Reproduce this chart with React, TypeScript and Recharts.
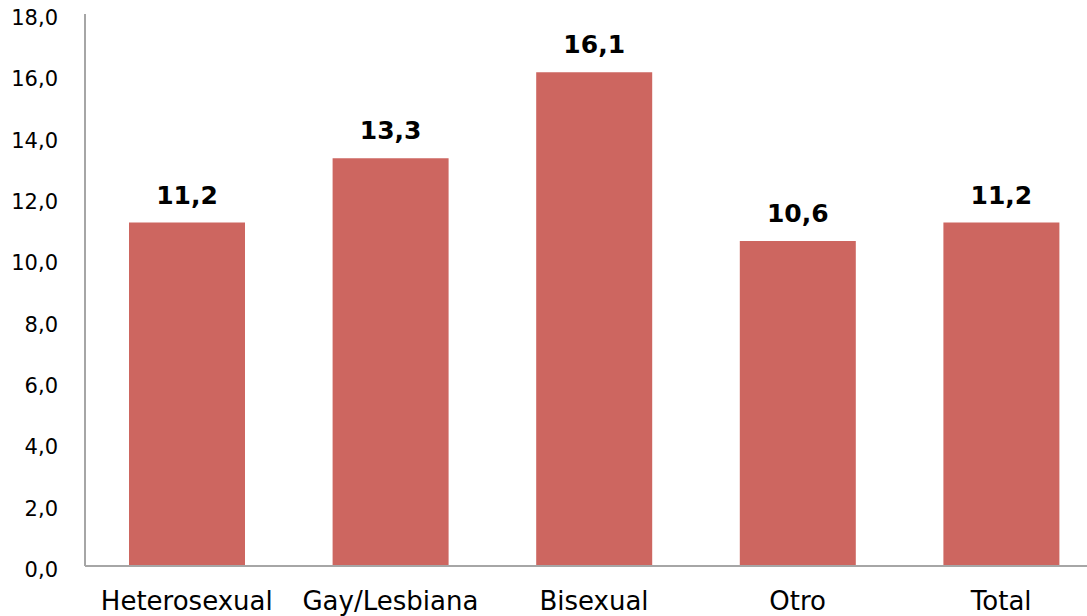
import { BarChart, Bar, XAxis, YAxis, LabelList } from "recharts";

const categories = ["Heterosexual", "Gay/Lesbiana", "Bisexual", "Otro", "Total"];
const values = [11.2, 13.3, 16.1, 10.6, 11.2];
const yTicks = [0, 2, 4, 6, 8, 10, 12, 14, 16, 18];

const data = categories.map((name, i) => ({ name, value: values[i] }));

const fmt = (v: number) => v.toFixed(1).replace(".", ",");

const font = "'DejaVu Sans', Verdana, sans-serif";

// y tick labels sit a touch below their gridline position in the original
const YTick = ({ x, y, payload }: any) => (
  <text x={x} y={y} dy={11} textAnchor="end" fill="#000" fontSize={21} fontFamily={font}>
    {fmt(payload.value)}
  </text>
);

export default function App() {
  return (
    <div style={{ position: "fixed", left: 0, top: 0, width: 1087, height: 616, overflow: "hidden", background: "#fff" }}>
      <BarChart
        width={1110}
        height={616}
        data={data}
        margin={{ top: 14, right: 7, left: 0, bottom: 0 }}
      >
        <XAxis
          dataKey="name"
          height={50}
          tickLine={false}
          tickSize={0}
          tickMargin={26}
          axisLine={{ stroke: "#a6a6a6", strokeWidth: 2 }}
          tick={{ fill: "#000", fontSize: 26, fontFamily: font }}
          interval={0}
        />
        <YAxis
          width={85}
          domain={[0, 18]}
          ticks={yTicks}
          tickLine={false}
          tickSize={0}
          tickMargin={27}
          axisLine={{ stroke: "#a6a6a6", strokeWidth: 2 }}
          tick={<YTick />}
        />
        <Bar dataKey="value" fill="#cd6660" barSize={116} isAnimationActive={false}>
          <LabelList
            dataKey="value"
            position="top"
            offset={19}
            formatter={(v: any) => fmt(Number(v))}
            style={{ fontSize: 25, fontWeight: "bold", fill: "#000", fontFamily: font }}
          />
        </Bar>
      </BarChart>
    </div>
  );
}
